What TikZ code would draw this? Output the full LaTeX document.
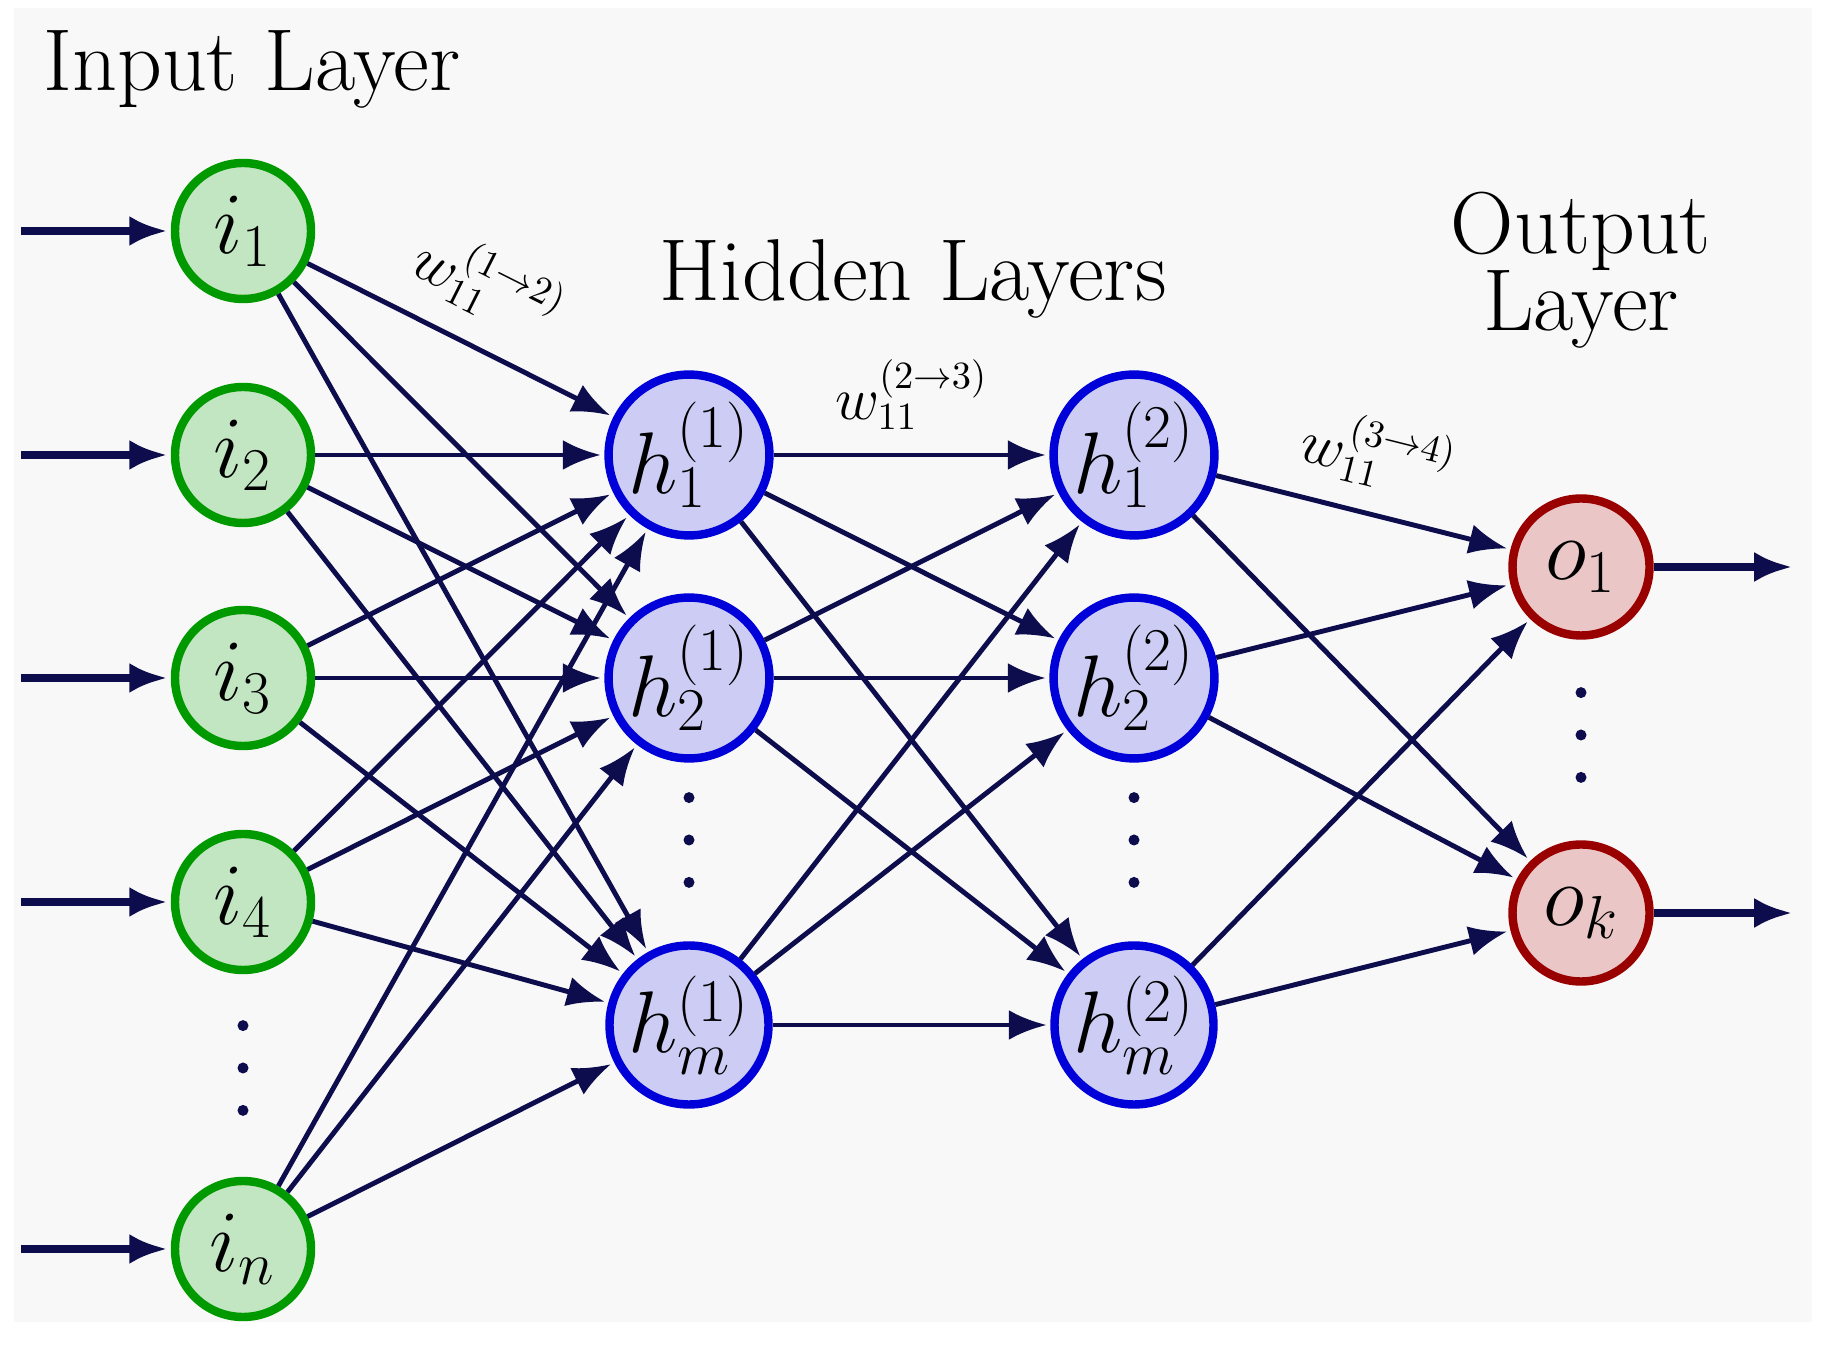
\documentclass[tikz,border=0pt]{standalone}
\usetikzlibrary{arrows.meta,positioning}
\definecolor{nnbg}{HTML}{F8F8F8}
\definecolor{nngreen}{HTML}{009A00}
\definecolor{nngreenfill}{HTML}{C2E6C2}
\definecolor{nnblue}{HTML}{0000D8}
\definecolor{nnbluefill}{HTML}{CCCCF5}
\definecolor{nnred}{HTML}{990000}
\definecolor{nnredfill}{HTML}{EAC6C6}
\definecolor{nnink}{HTML}{0D0D4D}
\tikzset{
  nn/.style={font=\fontsize{23}{27}\selectfont, text=black},
  nnunit/.style={circle, line width=2.4pt, inner sep=0pt},
  nnin/.style={nnunit, draw=nngreen, fill=nngreenfill, minimum size=1.36cm},
  nnhid/.style={nnunit, draw=nnblue, fill=nnbluefill, minimum size=1.59cm},
  nnout/.style={nnunit, draw=nnred, fill=nnredfill, minimum size=1.37cm},
  nnarr/.style={-{Latex[length=3.8mm,width=3mm]}, line width=1.4pt, draw=nnink, shorten >=1pt},
  nnfeed/.style={nnarr, line width=2.2pt},
  nndot/.style={circle, fill=nnink, inner sep=0pt, minimum size=0.11cm},
  nntitle/.style={font=\fontsize{25}{22}\selectfont, align=center},
  nnw/.style={font=\fontsize{16}{18}\selectfont, inner sep=1pt},
}

\begin{document}
\begin{tikzpicture}[nn]
  \useasboundingbox (0,0) rectangle (18.3,13.48);
  \fill[nnbg] (0.14,0.26) rectangle (18.12,13.40);

  \node[nntitle, anchor=base west] (intitle) at (0.31,12.57) {Input Layer};
  \node[nntitle, anchor=base] (hidtitle) at (9.13,10.47) {Hidden Layers};
  \node[nntitle] (outtitle) at (15.81,10.78) {Output\\Layer};

  \node[nnin] (i1) at (2.43,11.17) {$i_1$};
  \node[nnin] (i2) at (2.43,8.93) {$i_2$};
  \node[nnin] (i3) at (2.43,6.70) {$i_3$};
  \node[nnin] (i4) at (2.43,4.46) {$i_4$};
  \node[nnin] (in) at (2.43,0.99) {$i_n$};
  \node[nndot] (idot2) at (2.43,2.80) {};
  \node[nndot, above=0.30cm of idot2] (idot1) {};
  \node[nndot, below=0.30cm of idot2] (idot3) {};

  \node[nnhid] (ha1) at (6.89,8.93) {$h_1^{(1)}$};
  \node[nnhid] (ha2) at (6.89,6.70) {$h_2^{(1)}$};
  \node[nnhid] (ham) at (6.89,3.23) {$h_m^{(1)}$};
  \node[nndot] (hadot2) at (6.89,5.08) {};
  \node[nndot, above=0.30cm of hadot2] (hadot1) {};
  \node[nndot, below=0.30cm of hadot2] (hadot3) {};

  \node[nnhid] (hb1) at (11.34,8.93) {$h_1^{(2)}$};
  \node[nnhid] (hb2) at (11.34,6.70) {$h_2^{(2)}$};
  \node[nnhid] (hbm) at (11.34,3.23) {$h_m^{(2)}$};
  \node[nndot] (hbdot2) at (11.34,5.08) {};
  \node[nndot, above=0.30cm of hbdot2] (hbdot1) {};
  \node[nndot, below=0.30cm of hbdot2] (hbdot3) {};

  \node[nnout] (o1) at (15.81,7.81) {$o_1$};
  \node[nnout] (ok) at (15.81,4.35) {$o_k$};
  \node[nndot] (odot2) at (15.81,6.13) {};
  \node[nndot, above=0.30cm of odot2] (odot1) {};
  \node[nndot, below=0.30cm of odot2] (odot3) {};

  \coordinate[left=1.5cm of i1] (fi1);
  \coordinate[left=1.5cm of i2] (fi2);
  \coordinate[left=1.5cm of i3] (fi3);
  \coordinate[left=1.5cm of i4] (fi4);
  \coordinate[left=1.5cm of in] (fin);
  \coordinate[right=1.42cm of o1] (fo1);
  \coordinate[right=1.42cm of ok] (fok);
  \draw[nnfeed] (fi1) -- (i1);
  \draw[nnfeed] (fi2) -- (i2);
  \draw[nnfeed] (fi3) -- (i3);
  \draw[nnfeed] (fi4) -- (i4);
  \draw[nnfeed] (fin) -- (in);
  \draw[nnfeed] (o1) -- (fo1);
  \draw[nnfeed] (ok) -- (fok);

  \draw[nnarr] (i1) -- node[nnw, sloped, above=0.22cm] (w12) {$w_{11}^{(1\to2)}$} (ha1);
  \draw[nnarr] (i1) -- (ha2);
  \draw[nnarr] (i1) -- (ham);
  \draw[nnarr] (i2) -- (ha1);
  \draw[nnarr] (i2) -- (ha2);
  \draw[nnarr] (i2) -- (ham);
  \draw[nnarr] (i3) -- (ha1);
  \draw[nnarr] (i3) -- (ha2);
  \draw[nnarr] (i3) -- (ham);
  \draw[nnarr] (i4) -- (ha1);
  \draw[nnarr] (i4) -- (ha2);
  \draw[nnarr] (i4) -- (ham);
  \draw[nnarr] (in) -- (ha1);
  \draw[nnarr] (in) -- (ha2);
  \draw[nnarr] (in) -- (ham);

  \draw[nnarr] (ha1) -- node[nnw, above=0.2cm] (w23) {$w_{11}^{(2\to3)}$} (hb1);
  \draw[nnarr] (ha1) -- (hb2);
  \draw[nnarr] (ha1) -- (hbm);
  \draw[nnarr] (ha2) -- (hb1);
  \draw[nnarr] (ha2) -- (hb2);
  \draw[nnarr] (ha2) -- (hbm);
  \draw[nnarr] (ham) -- (hb1);
  \draw[nnarr] (ham) -- (hb2);
  \draw[nnarr] (ham) -- (hbm);

  \draw[nnarr] (hb1) -- node[nnw, sloped, above=0.2cm] (w34) {$w_{11}^{(3\to4)}$} (o1);
  \draw[nnarr] (hb1) -- (ok);
  \draw[nnarr] (hb2) -- (o1);
  \draw[nnarr] (hb2) -- (ok);
  \draw[nnarr] (hbm) -- (o1);
  \draw[nnarr] (hbm) -- (ok);
\end{tikzpicture}
\end{document}
